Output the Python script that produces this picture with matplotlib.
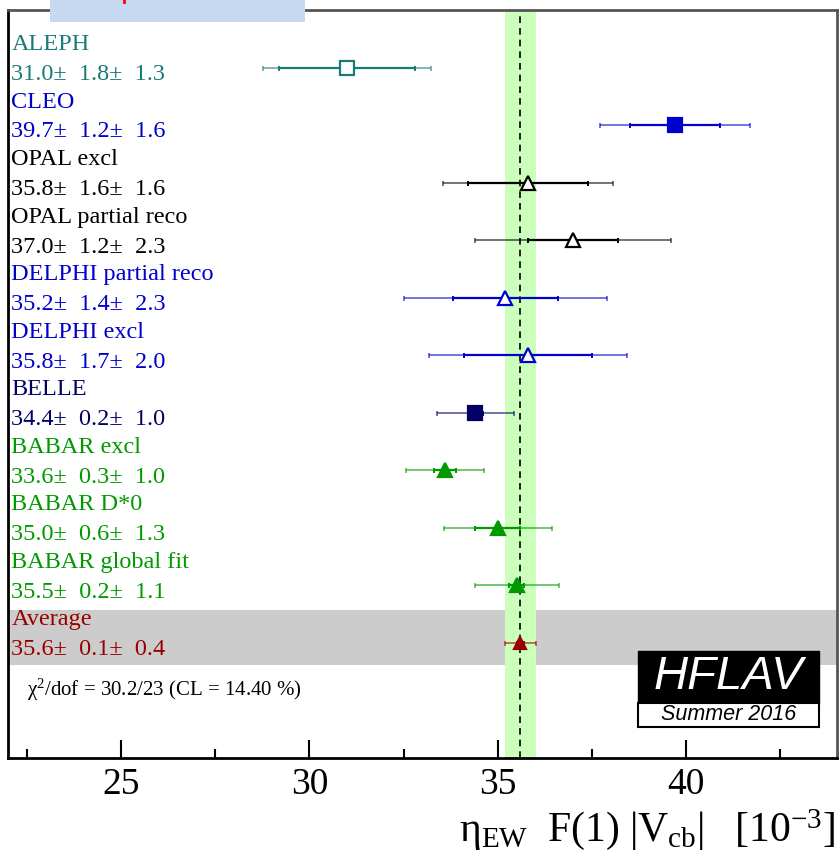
import matplotlib
matplotlib.use('Agg')
import matplotlib.pyplot as plt
import matplotlib.patches as patches
import matplotlib.transforms as mtransforms
from matplotlib import rcParams

rcParams['font.family'] = 'Liberation Serif'
rcParams['mathtext.fontset'] = 'custom'
rcParams['mathtext.rm'] = 'Liberation Serif'
rcParams['mathtext.it'] = 'Liberation Serif:italic'

# measurements, top to bottom
names = ['ALEPH', 'CLEO', 'OPAL excl', 'OPAL partial reco', 'DELPHI partial reco',
         'DELPHI excl', 'BELLE', 'BABAR excl', 'BABAR D*0', 'BABAR global fit', 'Average']
values = [31.0, 39.7, 35.8, 37.0, 35.2, 35.8, 34.4, 33.6, 35.0, 35.5, 35.6]
stat = [1.8, 1.2, 1.6, 1.2, 1.4, 1.7, 0.2, 0.3, 0.6, 0.2, 0.1]
syst = [1.3, 1.6, 1.6, 2.3, 2.3, 2.0, 1.0, 1.0, 1.3, 1.1, 0.4]
colors = ['#1a7a78', '#0000cc', '#000000', '#000000', '#0000cc', '#0000cc',
          '#000066', '#009900', '#009900', '#009900', '#990000']
markers = ['s', 's', '^', '^', '^', '^', 's', '^', '^', '^', '^']
filled = [False, True, False, False, False, False, True, True, True, True, True]

chi2_text = r'$\mathrm{\chi^2}$/dof = 30.2/23 (CL = 14.40 %)'

avg = values[-1]
avg_err = (stat[-1]**2 + syst[-1]**2) ** 0.5

fig = plt.figure(figsize=(8.39, 8.65), dpi=100)
ax = fig.add_axes([8/839, 107/865, 829/839, 748/865])

n = len(names)
ypos = [n - i for i in range(n)]

ax.axhspan(ypos[-1] - 0.38, ypos[-1] + 0.57, color='#cccccc', zorder=0.5, lw=0)
ax.axvspan(avg - avg_err, avg + avg_err, color='#ccffbb', zorder=1, lw=0)
ax.axvline(avg, color='black', ls=(0, (4, 3)), lw=1.2, zorder=2)

blend = mtransforms.blended_transform_factory(ax.transAxes, ax.transData)
for i in range(n):
    y = ypos[i]
    tot = (stat[i]**2 + syst[i]**2) ** 0.5
    c = colors[i]
    ax.errorbar(values[i], y, xerr=tot, fmt='none', ecolor=c, alpha=0.55,
                elinewidth=1.4, capsize=1.8, capthick=1.4, zorder=3)
    ax.errorbar(values[i], y, xerr=stat[i], fmt='none', ecolor=c,
                elinewidth=1.6, capsize=1.8, capthick=1.4, zorder=4)
    ms = 8.5 if i == n - 1 else 9.5
    ax.plot(values[i], y, marker=markers[i], ms=ms, mec=c, mew=1.6,
            mfc=c if filled[i] else 'white', ls='none', zorder=5)
    ax.text(0.004, y + 0.40, names[i], color=c, fontsize=17.5, va='center',
            ha='left', transform=blend)
    ax.text(0.004, y - 0.12, '%.1f\u00b1  %.1f\u00b1  %.1f' % (values[i], stat[i], syst[i]),
            color=c, fontsize=17.5, va='center', ha='left', transform=blend)

ax.text(0.023, 0.091, chi2_text, transform=ax.transAxes, fontsize=15,
        va='center', ha='left')

ax.set_xlim(22, 44)
ax.set_ylim(-1, 12)
ax.set_yticks([])
ax.set_xticks([25, 30, 35, 40])
ax.set_xticks([22.5, 27.5, 32.5, 37.5, 42.5], minor=True)
ax.tick_params(axis='x', which='major', direction='in', length=13, width=1.5,
               labelsize=27, pad=7)
ax.tick_params(axis='x', which='minor', direction='in', length=6.5, width=1.5)
for s in ['left', 'bottom']:
    ax.spines[s].set_linewidth(2)
    ax.spines[s].set_color('black')
for s in ['top', 'right']:
    ax.spines[s].set_linewidth(2)
    ax.spines[s].set_color('#555555')

fig.text(835/839, (865 - 841)/865,
         r'$\mathrm{\eta_{EW}\ \ F(1)\ |V_{cb}|\ \ \ [10^{-3}]}$',
         fontsize=30, ha='right', va='baseline')

# HFLAV logo
x0 = (638 - 8) / 829
x1 = (819 - 8) / 829
ax.add_patch(patches.Rectangle((x0, (758 - 703) / 748), x1 - x0, 52 / 748,
                               transform=ax.transAxes, facecolor='black',
                               edgecolor='black', zorder=6))
ax.add_patch(patches.Rectangle((x0, (758 - 727) / 748), x1 - x0, 24 / 748,
                               transform=ax.transAxes, facecolor='white',
                               edgecolor='black', lw=1.5, zorder=6))
ax.text((x0 + x1) / 2, (758 - 677) / 748, 'HFLAV', color='white', fontsize=34,
        family='Liberation Sans', style='italic', ha='center', va='center',
        transform=ax.transAxes, zorder=7)
ax.text((x0 + x1) / 2, (758 - 715) / 748, 'Summer 2016', color='black', fontsize=15.5,
        family='Liberation Sans', style='italic', ha='center', va='center',
        transform=ax.transAxes, zorder=7)

# cropped title box at the top
fig.patches.append(patches.Rectangle((50/839, 1 - 22/865), 255/839, 22/865,
                                     transform=fig.transFigure, facecolor='#c6d9f0',
                                     edgecolor='none', zorder=10))
fig.lines.append(plt.Line2D([124/839, 124/839], [1 - 2/865, 1], transform=fig.transFigure,
                            color='red', lw=2, zorder=11))

fig.savefig('out.png', dpi=100)
